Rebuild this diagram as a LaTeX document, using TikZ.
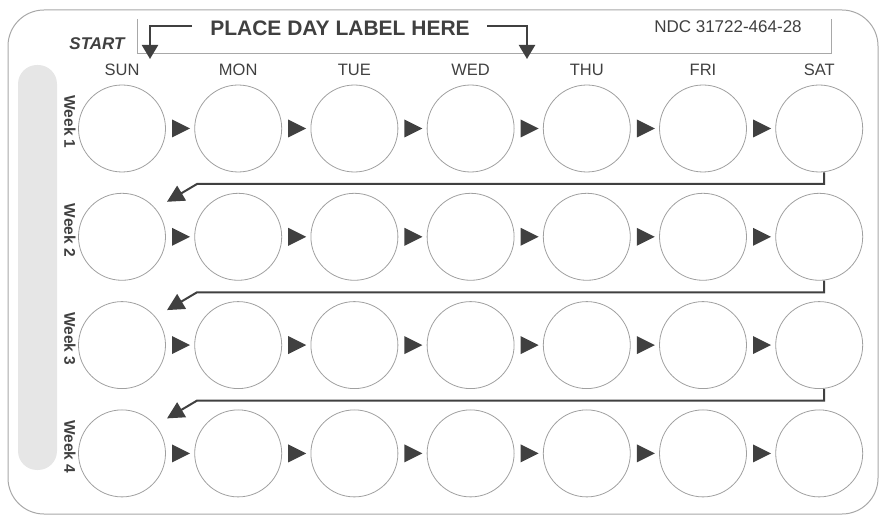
\documentclass[tikz,border=0pt]{standalone}
\usepackage{fontspec}
\setmainfont{Liberation Sans}
\usetikzlibrary{arrows.meta,calc}
\definecolor{bordergray}{HTML}{A8A8A8}
\definecolor{circgray}{HTML}{A0A0A0}
\definecolor{darkarrow}{HTML}{404040}
\definecolor{bargray}{HTML}{E6E6E6}
\definecolor{textgray}{HTML}{404040}
\tikzset{
  pill/.style={circle,draw=circgray,line width=0.8pt,minimum size=87pt,inner sep=0pt},
  daylab/.style={font=\fontsize{16.5}{16.5}\selectfont,text=textgray,inner sep=0pt},
  weeklab/.style={font=\fontsize{15.5}{15.5}\selectfont\bfseries,text=textgray,rotate=-90,inner sep=0pt},
  conn/.style={draw=darkarrow,line width=2pt,-{Triangle[length=17pt,width=17pt]}},
  topconn/.style={draw=darkarrow,line width=2.2pt,-{Triangle[length=14pt,width=16pt]}},
  stepfill/.style={fill=darkarrow},
}
\begin{document}
\begin{tikzpicture}[x=1pt,y=-1pt]
\useasboundingbox (0,0) rectangle (884,521);
% outer card
\draw[bordergray,line width=1pt,rounded corners=36pt] (8,10) rectangle (878,514);
% grey side bar
\fill[bargray,rounded corners=19pt] (18,65) rectangle (57,470);
% label box
\draw[bordergray,line width=0.8pt] (137,19) -- (137,53) -- (831,53) -- (831,19);
\node[font=\fontsize{21}{21}\selectfont\bfseries,text=textgray,inner sep=0pt] (place) at (340,28) {PLACE DAY LABEL HERE};
\node[font=\fontsize{17}{17}\selectfont\bfseries\itshape,text=textgray,inner sep=0pt] (start) at (97,44) {START};
\node[font=\fontsize{17}{17}\selectfont,text=textgray,inner sep=0pt] (ndc) at (728,27) {NDC 31722-464-28};
\coordinate (la0) at (192,26);
\coordinate (la1) at (150,26);
\coordinate (la2) at (150,59);
\coordinate (ra0) at (487,26);
\coordinate (ra1) at (527,26);
\coordinate (ra2) at (527,59);
\draw[topconn] (la0) -- (la1) -- (la2);
\draw[topconn] (ra0) -- (ra1) -- (ra2);
% day labels
\foreach \d [count=\i from 0] in {SUN,MON,TUE,WED,THU,FRI,SAT}{
  \node[daylab] (day-\i) at ({122+116.2*\i},70) {\d};
}
% circles
\foreach \j in {1,...,4}{
  \foreach \i in {1,...,7}{
    \node[pill] (c-\j-\i) at ({122+116.2*(\i-1)},{128.5+108.3*(\j-1)}) {};
  }
  \node[weeklab] (week-\j) at (70,{122+108.3*(\j-1)}) {Week \j};
  \foreach \i in {1,...,6}{
    \fill[stepfill] ($(c-\j-\i.center)+(50,-9)$) -- ++(18,9) -- ++(-18,9) -- cycle;
  }
}
% row connectors
\foreach \j [evaluate=\j as \k using int(\j+1)] in {1,2,3}{
  \coordinate (m-\j) at ($(c-\j-1.center)+(75,55.5)$);
  \coordinate (tip-\j) at ($(c-\k-1.center)+(45,-35)$);
  \draw[conn] ([xshift=5pt]c-\j-7.south) -- ([xshift=5pt]c-\j-7.south |- m-\j) -- (m-\j) -- (tip-\j);
}
\end{tikzpicture}
\end{document}
